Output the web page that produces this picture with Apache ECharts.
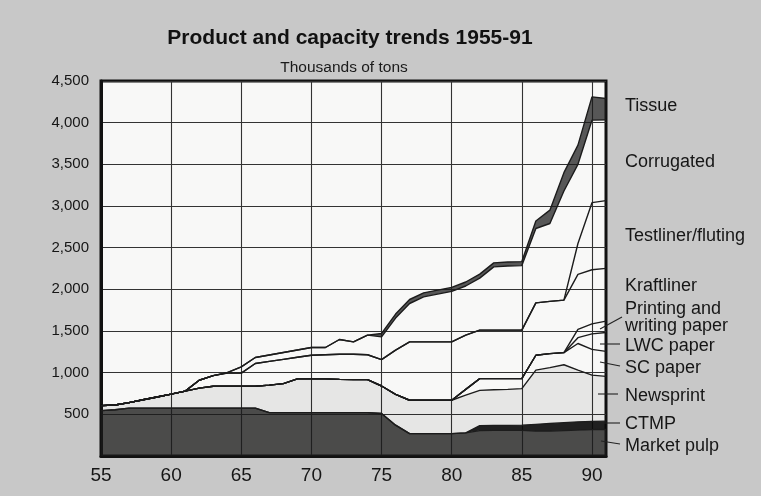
<!DOCTYPE html>
<html><head><meta charset="utf-8">
<script src="https://cdn.jsdelivr.net/npm/echarts@6/dist/echarts.min.js"></script>
<style>html,body{margin:0;padding:0;background:#c8c8c8}#c{width:761px;height:496px}</style>
</head><body><div id="c"></div>
<script>
// Years 1955-91 (two-digit)
const years = ['55','56','57','58','59','60','61','62','63','64','65','66','67','68','69','70','71','72','73','74','75','76','77','78','79','80','81','82','83','84','85','86','87','88','89','90','91'];
const xTickLabels = ['55','60','65','70','75','80','85','90'];
const yTickLabels = ['500','1,000','1,500','2,000','2,500','3,000','3,500','4,000','4,500'];
// Thousands of tons, stacked bottom to top
const marketPulp = [545,555,575,575,575,575,575,575,575,575,575,575,520,520,520,520,520,520,520,520,510,370,268,268,268,268,278,305,308,308,308,300,300,305,310,316,318];
const ctmp       = [0,0,0,0,0,0,0,0,0,0,0,0,0,0,0,0,0,0,0,0,0,0,0,0,0,0,0,60,60,60,62,80,90,95,100,100,100];
const newsprint  = [60,57,65,100,133,167,203,240,262,262,262,262,330,349,405,405,405,400,397,397,330,370,401,401,401,401,452,423,427,432,439,650,670,695,620,554,537];
const scPaper    = [0,0,0,0,0,0,0,0,0,0,0,0,0,0,0,0,0,0,0,0,0,0,0,0,0,0,70,141,134,129,120,179,169,145,320,310,300];
const lwcPaper   = [0,0,0,0,0,0,0,0,0,0,0,0,0,0,0,0,0,0,0,0,0,0,0,0,0,0,0,0,0,0,0,0,0,0,70,185,227];
const printWrite = [0,0,0,0,0,0,0,0,0,0,0,0,0,0,0,0,0,0,0,0,0,0,0,0,0,0,0,0,0,0,0,0,0,0,100,120,136];
const kraftliner = [0,0,0,0,0,0,0,94,128,158,158,273,285,291,260,284,290,301,304,298,317,530,701,701,701,701,650,581,581,581,581,629,626,630,660,650,633];
const testliner  = [0,0,0,0,0,0,0,0,0,0,0,0,0,0,0,0,0,0,0,0,0,0,0,0,0,0,0,0,0,0,0,0,0,0,370,805,813];
const corrugated = [0,0,0,0,0,0,0,0,0,5,74,72,77,82,87,93,87,177,149,235,273,385,460,540,573,605,590,625,760,770,775,892,935,1310,950,990,969];
const tissue     = [0,0,0,0,0,0,0,0,0,0,0,0,0,0,0,0,0,0,0,0,40,48,48,48,48,48,48,48,48,48,48,90,160,220,230,280,257];

const seriesNames = ['Market pulp','CTMP','Newsprint','SC paper','LWC paper','Printing and writing paper','Kraftliner','Testliner/fluting','Corrugated','Tissue'];
const seriesValues = [marketPulp,ctmp,newsprint,scPaper,lwcPaper,printWrite,kraftliner,testliner,corrugated,tissue];
const fills = ['rgba(25,25,25,0.78)','rgba(8,8,8,0.9)','rgba(0,0,0,0.07)',null,null,null,null,null,null,'rgba(25,25,25,0.72)'];

const chart = echarts.init(document.getElementById('c'), null, {renderer:'canvas'});
const FONT = 'Liberation Sans, Arial, Helvetica, sans-serif';
const series = seriesNames.map((n,i)=>{
  const s = {
    name:n, type:'line', stack:'total', symbol:'none', showSymbol:false, smooth:false,
    data: seriesValues[i],
    lineStyle:{color:'#1c1c1c', width:1.4},
    z: 3
  };
  if (fills[i]) s.areaStyle = {color:fills[i], opacity:1};
  return s;
});

const rightLabels = [
  ['Tissue',106],['Corrugated',162],['Testliner/fluting',236],['Kraftliner',286],
  ['Printing and',309],['writing paper',326],['LWC paper',346],['SC paper',368],
  ['Newsprint',396],['CTMP',424],['Market pulp',446]
];
const leaders = [[600,329,622,317],[600,344,620,344],[600,362,620,366],[598,394,618,394],[603,423,620,423],[601,441,620,444]];

const graphic = [
  {type:'text', x:350, y:38, style:{text:'Product and capacity trends 1955-91', font:'bold 21px '+FONT, fill:'#111', textAlign:'center', textVerticalAlign:'middle'}},
  {type:'text', x:344, y:67.5, style:{text:'Thousands of tons', font:'15.5px '+FONT, fill:'#1a1a1a', textAlign:'center', textVerticalAlign:'middle'}}
];
rightLabels.forEach(([t,y])=>graphic.push({type:'text', x:625, y:y, style:{text:t, font:'18px '+FONT, fill:'#161616', textAlign:'left', textVerticalAlign:'middle'}}));
leaders.forEach(([x1,y1,x2,y2])=>graphic.push({type:'line', shape:{x1,y1,x2,y2}, style:{stroke:'#222', lineWidth:1.1}, z:10}));

const tickEvery = (i)=> i % 5 === 0;

chart.setOption({
  animation:false,
  backgroundColor:'#c8c8c8',
  grid:{left:101, right:155, top:81, bottom:40, show:true, backgroundColor:'#f8f8f7', borderColor:'#111', borderWidth:3},
  xAxis:{type:'category', data:years, boundaryGap:false,
    axisLine:{show:true, lineStyle:{color:'#111', width:3}}, axisTick:{show:false},
    splitLine:{show:true, interval:tickEvery, lineStyle:{color:'#333', width:1.1}},
    axisLabel:{margin:10, fontSize:19, fontFamily:FONT, color:'#161616', interval:tickEvery,
      formatter:v=> xTickLabels.indexOf(v)>=0 ? v : ''}},
  yAxis:{type:'value', min:0, max:4500, interval:500,
    axisLine:{show:true, lineStyle:{color:'#111', width:3}}, axisTick:{show:false},
    splitLine:{show:true, lineStyle:{color:'#333', width:1.1}},
    axisLabel:{margin:12, fontSize:15, fontFamily:FONT, color:'#161616', showMinLabel:false,
      formatter:v=>{const i=Math.round(v/500)-1; return i>=0&&i<yTickLabels.length?yTickLabels[i]:'';}}},
  series: series,
  graphic: graphic
});
</script>
</body></html>
